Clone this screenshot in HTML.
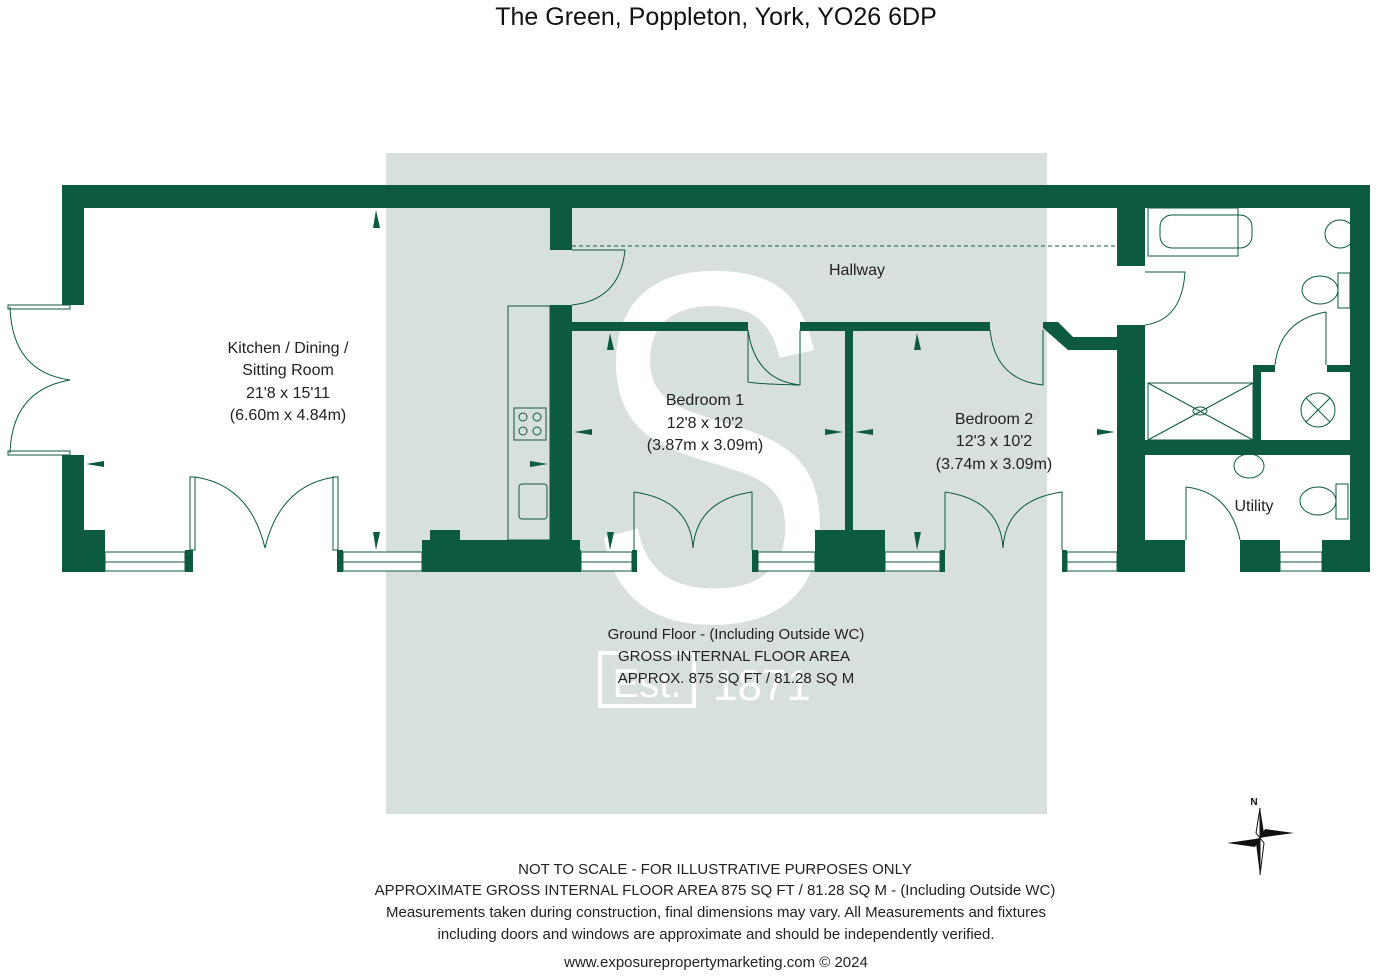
<!DOCTYPE html>
<html><head><meta charset="utf-8"><style>
html,body{margin:0;padding:0;background:#fff;}
svg{display:block;font-family:"Liberation Sans",sans-serif;}
</style></head><body>
<svg width="1378" height="976" viewBox="0 0 1378 976" xmlns="http://www.w3.org/2000/svg">
<text x="716" y="25" font-size="25" text-anchor="middle" fill="#111">The Green, Poppleton, York, YO26 6DP</text>
<rect x="386" y="153" width="661" height="661" fill="#d8e0dd"/>
<!-- S watermark -->
<text x="0" y="620" font-size="500" text-anchor="middle" fill="#fff" transform="translate(712,0) scale(0.75,1)">S</text>
<rect x="600" y="653" width="94" height="53" fill="none" stroke="#fff" stroke-width="4"/>
<text x="647" y="697" font-size="40" text-anchor="middle" fill="#fff">Est.</text>
<text x="762" y="700" font-size="44" text-anchor="middle" fill="#fff">1871</text>

<g fill="#0c5a3f">
<rect x="62" y="185" width="1308" height="23"/>
<rect x="62" y="185" width="22" height="120"/>
<rect x="62" y="455" width="22" height="117"/>
<rect x="62" y="530" width="43" height="42"/>
<rect x="185" y="550" width="8" height="22"/>
<rect x="337" y="550" width="6" height="22"/>
<rect x="422" y="540" width="158" height="32"/>
<rect x="430" y="530" width="30" height="12"/>
<rect x="550" y="208" width="22" height="42"/>
<rect x="550" y="305" width="22" height="267"/>
<rect x="572" y="322" width="176" height="9"/>
<rect x="800" y="322" width="190" height="9"/>
<polygon points="1043,322 1058,322 1073,337 1117,337 1117,350 1068,350 1043,328"/>
<rect x="845" y="322" width="8" height="210"/>
<rect x="815" y="530" width="70" height="42"/>
<rect x="573" y="550" width="8" height="22"/>
<rect x="632" y="550" width="5" height="22"/>
<rect x="752" y="550" width="6" height="22"/>
<rect x="940" y="550" width="5" height="22"/>
<rect x="1062" y="550" width="5" height="22"/>
<rect x="1117" y="208" width="28" height="58"/>
<rect x="1117" y="325" width="28" height="247"/>
<rect x="1350" y="185" width="20" height="387"/>
<rect x="1145" y="440" width="205" height="15"/>
<rect x="1253" y="365" width="8" height="78"/>
<rect x="1253" y="365" width="22" height="7"/>
<rect x="1327" y="365" width="23" height="7"/>
<rect x="1145" y="540" width="40" height="32"/>
<rect x="1240" y="540" width="40" height="32"/>
<rect x="1322" y="540" width="28" height="32"/>
</g>
<g fill="#fff" stroke="#0c5a3f" stroke-width="1">
<rect x="105" y="552" width="80" height="19"/>
<rect x="343" y="552" width="79" height="19"/>
<rect x="581" y="552" width="51" height="19"/>
<rect x="758" y="552" width="57" height="19"/>
<rect x="885" y="552" width="55" height="19"/>
<rect x="1067" y="552" width="50" height="19"/>
<rect x="1280" y="552" width="42" height="19"/>
</g>
<g stroke="#0c5a3f" stroke-width="1">
<line x1="105" y1="562" x2="185" y2="562"/><line x1="343" y1="562" x2="422" y2="562"/>
<line x1="581" y1="562" x2="632" y2="562"/><line x1="758" y1="562" x2="815" y2="562"/>
<line x1="885" y1="562" x2="940" y2="562"/><line x1="1067" y1="562" x2="1117" y2="562"/>
<line x1="1280" y1="562" x2="1322" y2="562"/>
</g>
<g fill="none" stroke="#0c5a3f" stroke-width="1">
<rect x="8" y="305" width="62" height="4"/><rect x="8" y="451" width="62" height="4"/>
<path d="M10,307 Q12,372 70,380 Q12,390 10,453"/>
<rect x="190" y="477" width="5" height="73"/>
<path d="M195,477 Q250,485 265,548 Q280,485 335,477"/>
<rect x="333" y="477" width="5" height="73"/>
<path d="M572,250 L625,250 M625,250 Q620,300 572,305"/>
<path d="M748,330 L748,382 Q758,384 800,385 L800,330 M800,385 Q755,380 748,330"/>
<path d="M990,330 Q995,380 1043,385 L1043,330"/>
<path d="M1145,272 L1185,272 Q1182,320 1145,325"/>
<path d="M634,492 L634,550 M634,492 Q690,500 693,548 Q697,500 752,492 L752,550"/>
<path d="M945,492 L945,550 M945,492 Q1000,500 1003,548 Q1006,500 1062,492 L1062,550"/>
<path d="M1186,487 L1186,540 M1186,487 Q1230,492 1240,540"/>
<path d="M1326,312 L1326,365 M1326,312 Q1280,320 1275,365"/>
<line x1="572" y1="246" x2="1117" y2="246" stroke-dasharray="4,3"/>
<rect x="508" y="306" width="42" height="234"/>
<rect x="514" y="408" width="32" height="32"/>
<circle cx="523" cy="417" r="4"/><circle cx="537" cy="417" r="4"/>
<circle cx="523" cy="431" r="4"/><circle cx="537" cy="431" r="4"/>
<rect x="519" y="484" width="28" height="35" rx="3"/>
<rect x="1148" y="208" width="90" height="48"/>
<rect x="1160" y="215" width="92" height="33" rx="12"/>
<ellipse cx="1340" cy="234" rx="15" ry="14"/>
<rect x="1338" y="273" width="12" height="35"/><ellipse cx="1320" cy="290" rx="18" ry="14"/>
<rect x="1148" y="383" width="105" height="57"/>
<path d="M1148,383 L1253,440 M1253,383 L1148,440"/>
<ellipse cx="1200" cy="411" rx="7" ry="4"/>
<circle cx="1318" cy="410" r="17"/><path d="M1306,398 L1330,422 M1330,398 L1306,422"/>
<ellipse cx="1249" cy="466" rx="15" ry="12"/>
<rect x="1336" y="484" width="12" height="35"/><ellipse cx="1318" cy="501" rx="18" ry="14"/>
</g>
<g fill="#0c5a3f">
<polygon points="373,228 380,228 376,210"/>
<polygon points="373,532 380,532 376,550"/>
<polygon points="86,464 104,461 104,467"/>
<polygon points="548,464 530,461 530,467"/>
<polygon points="574,432 592,429 592,435"/>
<polygon points="843,432 825,429 825,435"/>
<polygon points="855,432 873,429 873,435"/>
<polygon points="1115,432 1097,429 1097,435"/>
<polygon points="607,350 614,350 610,333"/>
<polygon points="607,532 614,532 610,550"/>
<polygon points="914,350 921,350 917,333"/>
<polygon points="914,532 921,532 917,550"/>
</g>
<g font-size="16" fill="#222" text-anchor="middle">
<text x="288" y="353">Kitchen / Dining /</text>
<text x="288" y="375">Sitting Room</text>
<text x="288" y="398">21'8 x 15'11</text>
<text x="288" y="420">(6.60m x 4.84m)</text>
<text x="857" y="275">Hallway</text>
<text x="705" y="405">Bedroom 1</text>
<text x="705" y="428">12'8 x 10'2</text>
<text x="705" y="450">(3.87m x 3.09m)</text>
<text x="994" y="424">Bedroom 2</text>
<text x="994" y="446">12'3 x 10'2</text>
<text x="994" y="469">(3.74m x 3.09m)</text>
<text x="1254" y="511">Utility</text>
<text x="736" y="639" font-size="15">Ground Floor - (Including Outside WC)</text>
<text x="734" y="661" font-size="15">GROSS INTERNAL FLOOR AREA</text>
<text x="736" y="683" font-size="15">APPROX. 875 SQ FT / 81.28 SQ M</text>
<text x="715" y="874" font-size="15">NOT TO SCALE - FOR ILLUSTRATIVE PURPOSES ONLY</text>
<text x="715" y="895" font-size="15">APPROXIMATE GROSS INTERNAL FLOOR AREA 875 SQ FT / 81.28 SQ M - (Including Outside WC)</text>
<text x="716" y="917" font-size="15">Measurements taken during construction, final dimensions may vary.  All Measurements and fixtures</text>
<text x="716" y="939" font-size="15">including doors and windows are approximate and should be independently verified.</text>
<text x="716" y="967" font-size="15">www.exposurepropertymarketing.com © 2024</text>
</g>
<g>
<text x="1254" y="805" font-size="10" font-weight="bold" text-anchor="middle" fill="#111">N</text>
<polygon points="1260,808 1264,833 1260,838" fill="#111"/>
<polygon points="1260,808 1256,833 1260,838" fill="#fff" stroke="#111" stroke-width="1"/>
<polygon points="1260,875 1256,843 1260,838" fill="#111"/>
<polygon points="1260,875 1264,843 1260,838" fill="#fff" stroke="#111" stroke-width="1"/>
<polygon points="1227,843 1255,839 1260,838 1255,847" fill="#111"/>
<polygon points="1294,833 1265,837 1260,838 1265,829" fill="#111"/>
</g>
</svg>
</body></html>
